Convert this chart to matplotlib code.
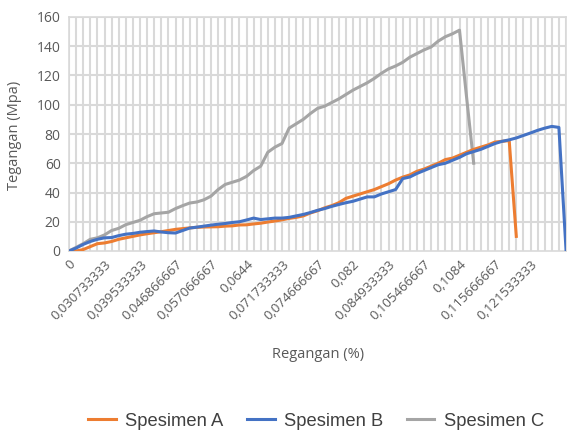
import numpy as np
import matplotlib
matplotlib.use("Agg")
import matplotlib.pyplot as plt

# nilai (indeks kategori 0..70)
spesimen_a = [0, 0, 1, 3, 5, 5.5, 6.5, 8, 9, 10, 11, 11.8, 12.5, 13.2, 14, 14.8, 15.3, 15.8, 16.2, 16.4,
              16.5, 16.6, 17, 17.2, 17.8, 17.9, 18.5, 19, 19.8, 20.5, 21.3, 22.3, 23, 24, 26, 27.5, 29.5, 31, 33, 36,
              37.5, 39, 40.5, 42, 44, 46, 48.5, 50.5, 52, 54.5, 56, 58, 60, 62.5, 63.5, 65.5, 67.5, 69.5, 71, 72.5,
              74.5, 75, 75.5, 10]
spesimen_b = [0, 2, 4.5, 6.5, 8, 9, 9.2, 10.5, 11.5, 12, 12.8, 13.3, 13.7, 13, 12.5, 12.3, 14, 15.7, 16.3, 17,
              17.7, 18.3, 18.8, 19.5, 20, 21.2, 22.5, 21.5, 22, 22.5, 22.5, 23, 24, 25, 26.3, 27.8, 29, 30.5, 31.8, 33,
              34, 35.5, 37, 37, 39, 40.5, 42, 49.5, 50.6, 53, 55, 57, 59, 60, 62, 64, 66.5, 68, 69.5, 71.5,
              73.5, 75, 76, 77.3, 79, 80.7, 82.5, 84, 85.2, 84.5, 1]
spesimen_c = [0, 2.5, 5, 8, 9, 11, 14, 15.5, 18, 19.5, 21, 23.5, 25.5, 26, 26.5, 29, 31, 32.8, 33.5, 35,
              37.5, 42, 45.5, 47, 48.5, 51, 55, 58, 67.5, 71, 73.5, 84, 87, 90, 94, 97.5, 99, 101.5, 104, 107,
              110, 112.5, 115, 118, 121.5, 124.5, 126.5, 129, 132.5, 135, 137.5, 139.5, 143.5, 146.5, 148.5, 151,
              105, 60]

n_kategori = 71
label_tampil = ["0", "0,030733333", "0,039533333", "0,046866667", "0,057066667", "0,0644",
                "0,071733333", "0,074666667", "0,082", "0,084933333", "0,105466667", "0,1084",
                "0,115666667", "0,121533333"]
langkah_label = 5

W, H = 567, 433
fig = plt.figure(figsize=(W / 100, H / 100), dpi=100)
ax = fig.add_axes([69 / W, 1 - 251 / H, (566 - 69) / W, (251 - 17) / H])

grid_col = "#d9d9d9"
teks_col = "#595959"

for i in range(n_kategori):
    ax.axvline(i, color=grid_col, lw=1.5, zorder=0)
for y in range(20, 161, 20):
    ax.axhline(y, color=grid_col, lw=1.5, zorder=0)

ax.plot(range(len(spesimen_a)), spesimen_a, color="#ED7D31", lw=2.2, label="Spesimen A", zorder=3)
ax.plot(range(len(spesimen_b)), spesimen_b, color="#4472C4", lw=2.2, label="Spesimen B", zorder=4)
ax.plot(range(len(spesimen_c)), spesimen_c, color="#A5A5A5", lw=2.2, label="Spesimen C", zorder=2)

ax.set_xlim(0, n_kategori - 1)
ax.set_ylim(0, 160)
ax.set_yticks(range(0, 161, 20))
ax.set_xticks(range(0, len(label_tampil) * langkah_label, langkah_label))
ax.set_xticklabels(label_tampil, rotation=45, ha="right", rotation_mode="anchor",
                   fontsize=9.5, color=teks_col, family="Open Sans")
for t in ax.get_yticklabels():
    t.set_fontsize(10)
    t.set_color(teks_col)
    t.set_family("Open Sans")
ax.tick_params(length=0, pad=6)
ax.tick_params(axis="x", pad=5)
for s in ax.spines.values():
    s.set_color(grid_col)
    s.set_linewidth(1.2)

fig.text(15 / W, 1 - 135 / H, "Tegangan (Mpa)", rotation=90, ha="center", va="center",
         fontsize=10.5, color=teks_col, family="Open Sans")
fig.text(318 / W, 1 - 355 / H, "Regangan (%)", ha="center", va="center",
         fontsize=10.5, color=teks_col, family="Open Sans")

fig.legend(loc="center", bbox_to_anchor=(316 / W, 1 - 421 / H), ncol=3, frameon=False,
           prop={"family": "Liberation Sans", "size": 13.2}, handlelength=1.5,
           columnspacing=1.3, handletextpad=0.5, labelcolor="#404040")

fig.savefig("out.png", dpi=100)
